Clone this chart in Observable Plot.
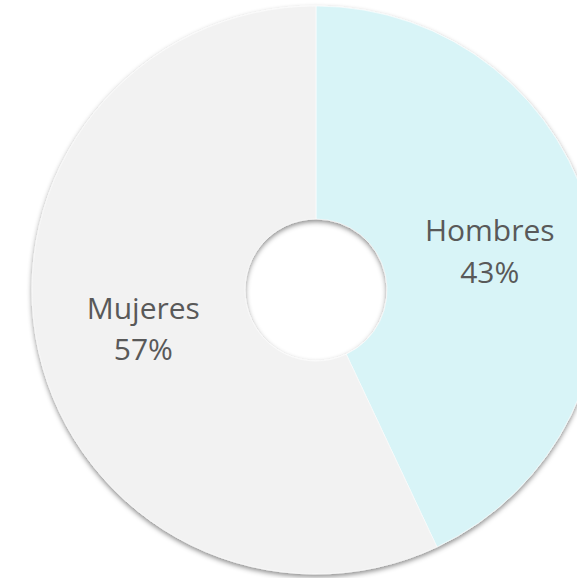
<!DOCTYPE html>
<html>
<head>
<meta charset="utf-8">
<script src="https://cdn.jsdelivr.net/npm/d3@7"></script>
<script src="https://cdn.jsdelivr.net/npm/@observablehq/plot@0.6"></script>
<style>
  html, body { margin: 0; padding: 0; background: #fff; }
  #chart svg { display: block; }
</style>
</head>
<body>
<div id="chart"></div>
<script>
const categories = ["Hombres", "Mujeres"];
const values = [43, 57];
const percentLabels = ["43%", "57%"];
const colors = ["#d8f4f7", "#f2f2f2"];

const data = categories.map((c, i) => ({category: c, value: values[i], label: percentLabels[i], color: colors[i]}));

const R = 284, r0 = 71;
const pie = d3.pie().sort(null).value(d => d.value)(data);
const arcGen = d3.arc().innerRadius(r0).outerRadius(R);
const labelData = pie.map(p => {
  const [cx, cy] = arcGen.centroid(p);
  return {x: cx, y: cy - 3, text: `${p.data.category}\n${p.data.label}`};
});

function donut(index, scales, values, dimensions, context) {
  const x = scales.x, y = scales.y;
  const ox = x(0), oy = y(0);
  const k = Math.abs(x(1) - x(0));
  const arc = d3.arc().innerRadius(r0 * k).outerRadius(R * k);
  const g = d3.create("svg:g");
  const defs = g.append("defs");
  const f = defs.append("filter").attr("id", "donut-shadow")
    .attr("x", "-10%").attr("y", "-10%").attr("width", "120%").attr("height", "120%");
  f.append("feDropShadow").attr("dx", 0).attr("dy", 2.5).attr("stdDeviation", 2.5)
    .attr("flood-color", "#000").attr("flood-opacity", 0.45);
  const gg = g.append("g").attr("transform", `translate(${ox},${oy})`).attr("filter", "url(#donut-shadow)");
  gg.selectAll("path").data(pie).join("path")
    .attr("d", arc)
    .attr("fill", d => d.data.color)
    .attr("stroke", "#ffffff")
    .attr("stroke-width", 0.6);
  return g.node();
}

const chart = Plot.plot({
  width: 577,
  height: 578,
  margin: 0,
  x: {domain: [-316, 261], range: [0, 577], axis: null},
  y: {domain: [-290, 288], range: [0, 578], axis: null},
  marks: [
    donut,
    Plot.text(labelData, {
      x: "x", y: "y", text: "text",
      fontSize: 30, lineHeight: 1.38,
      fill: "#595959",
      fontFamily: "Open Sans, Liberation Sans, sans-serif",
      fontWeight: 400
    })
  ]
});
document.getElementById("chart").appendChild(chart);
</script>
</body>
</html>
